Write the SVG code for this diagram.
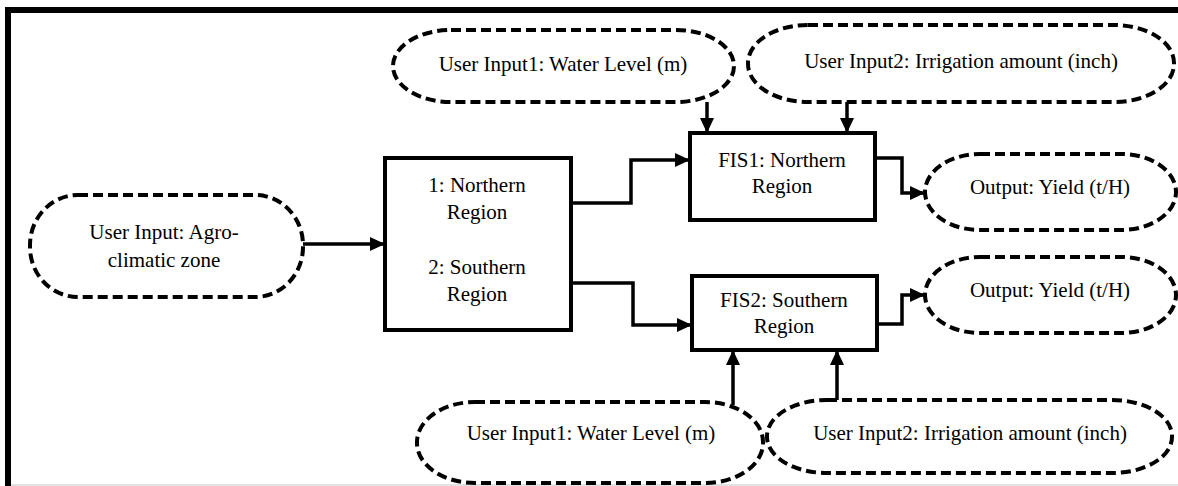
<svg xmlns="http://www.w3.org/2000/svg" width="1178" height="486" viewBox="0 0 1178 486">
<defs>
<style>
.term{fill:#fff;stroke:#000;stroke-width:4;stroke-dasharray:10 5}
.box{fill:#fff;stroke:#000;stroke-width:4}
.conn{fill:none;stroke:#000;stroke-width:3.5}
text{font-family:"Liberation Serif","Times New Roman","DejaVu Serif",serif;font-size:21px;fill:#000;text-anchor:middle}
</style>
<marker id="ah" markerUnits="userSpaceOnUse" markerWidth="16" markerHeight="14" refX="15" refY="7" orient="auto">
<path d="M0,0 L15,7 L0,14 z" fill="#000"/>
</marker>
</defs>
<rect width="1178" height="486" fill="#fff"/>
<g id="frame">
<line x1="8" y1="7" x2="8" y2="486" stroke="#000" stroke-width="6"/>
<line x1="5" y1="10" x2="1178" y2="10" stroke="#000" stroke-width="6"/>
<line x1="11" y1="485" x2="1178" y2="485" stroke="#d9d9d9" stroke-width="1.5"/>
</g>
<g id="connectors">
<path class="conn" d="M303,244 H385" marker-end="url(#ah)"/>
<path class="conn" d="M571,203 H631 V160 H690" marker-end="url(#ah)"/>
<path class="conn" d="M571,283 H633 V325 H692" marker-end="url(#ah)"/>
<path class="conn" d="M707,102 V133" marker-end="url(#ah)"/>
<path class="conn" d="M847,102 V133" marker-end="url(#ah)"/>
<path class="conn" d="M875,158 H902 V193 H925" marker-end="url(#ah)"/>
<path class="conn" d="M877,324 H902 V295 H925" marker-end="url(#ah)"/>
<path class="conn" d="M733,405 V350" marker-end="url(#ah)"/>
<path class="conn" d="M837,400 V350" marker-end="url(#ah)"/>
</g>
<g id="agro">
<rect class="term" x="30" y="195" width="273" height="102" rx="48" ry="50"/>
<text x="164" y="239">User Input: Agro-</text>
<text x="164" y="267">climatic zone</text>
</g>
<g id="region">
<rect class="box" x="385" y="158" width="186" height="172"/>
<text x="477" y="192">1: Northern</text>
<text x="477" y="219">Region</text>
<text x="477" y="274">2: Southern</text>
<text x="477" y="301">Region</text>
</g>
<g id="top-water">
<rect class="term" x="393" y="30" width="341" height="72" rx="58" ry="36"/>
<text x="563" y="71">User Input1: Water Level (m)</text>
</g>
<g id="top-irrigation">
<rect class="term" x="748" y="25" width="426" height="77" rx="60" ry="38"/>
<text x="961" y="68">User Input2: Irrigation amount (inch)</text>
</g>
<g id="fis1">
<rect class="box" x="690" y="133" width="185" height="87"/>
<text x="782" y="167">FIS1: Northern</text>
<text x="782" y="193">Region</text>
</g>
<g id="fis2">
<rect class="box" x="692" y="276" width="185" height="74"/>
<text x="784" y="307">FIS2: Southern</text>
<text x="784" y="333">Region</text>
</g>
<g id="out1">
<rect class="term" x="925" y="154" width="251" height="76" rx="55" ry="38"/>
<text x="1050" y="194">Output: Yield (t/H)</text>
</g>
<g id="out2">
<rect class="term" x="925" y="257" width="251" height="76" rx="55" ry="38"/>
<text x="1050" y="297">Output: Yield (t/H)</text>
</g>
<g id="bottom-water">
<rect class="term" x="417" y="402" width="346" height="81" rx="58" ry="40"/>
<text x="591" y="440">User Input1: Water Level (m)</text>
</g>
<g id="bottom-irrigation">
<rect class="term" x="767" y="400" width="405" height="73" rx="60" ry="36"/>
<text x="970" y="440">User Input2: Irrigation amount (inch)</text>
</g>
</svg>
